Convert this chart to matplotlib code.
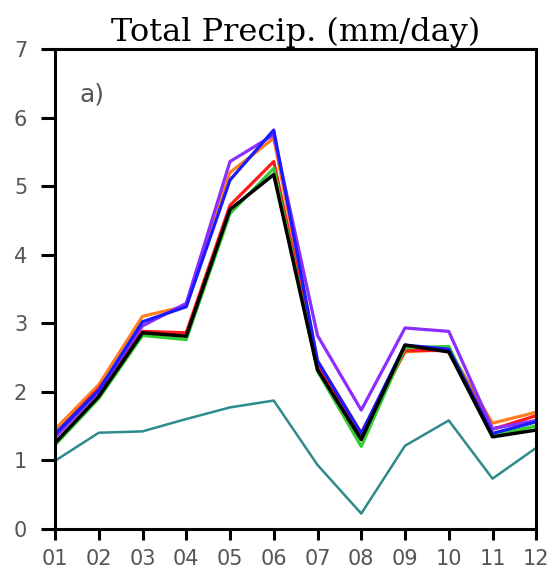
import matplotlib
matplotlib.use("Agg")
import matplotlib.pyplot as plt
import numpy as np

# monthly total precipitation (mm/day)
months = ["01", "02", "03", "04", "05", "06", "07", "08", "09", "10", "11", "12"]

orange = [1.45, 2.10, 3.10, 3.25, 5.20, 5.70, 2.45, 1.40, 2.58, 2.62, 1.54, 1.70]
red    = [1.38, 2.05, 2.88, 2.86, 4.72, 5.36, 2.40, 1.35, 2.60, 2.60, 1.45, 1.65]
green  = [1.22, 1.90, 2.82, 2.76, 4.60, 5.26, 2.30, 1.20, 2.64, 2.66, 1.36, 1.50]
purple = [1.33, 2.00, 2.96, 3.29, 5.36, 5.75, 2.82, 1.73, 2.93, 2.88, 1.46, 1.58]
blue   = [1.38, 2.02, 3.02, 3.24, 5.09, 5.82, 2.45, 1.39, 2.68, 2.62, 1.39, 1.56]
black  = [1.25, 1.93, 2.86, 2.81, 4.66, 5.17, 2.32, 1.30, 2.68, 2.58, 1.34, 1.44]
teal   = [0.99, 1.40, 1.42, 1.60, 1.77, 1.87, 0.93, 0.22, 1.21, 1.58, 0.73, 1.18]

x = np.arange(len(months))

fig = plt.figure(figsize=(5.5, 5.79), dpi=100)
ax = fig.add_axes([0.1, 0.087, 0.875, 0.828])

ax.plot(x, teal, color="#2e8b8b", lw=1.8)
ax.plot(x, orange, color="#ff7f1f", lw=2.3)
ax.plot(x, red, color="#ff1a1a", lw=2.3)
ax.plot(x, green, color="#33cc33", lw=2.3)
ax.plot(x, purple, color="#8c2eff", lw=2.3)
ax.plot(x, blue, color="#1a1aff", lw=2.3)
ax.plot(x, black, color="black", lw=2.5)

ax.set_xlim(0, 11)
ax.set_ylim(0, 7)
ax.set_xticks(x)
ax.set_xticklabels(months)
ax.set_yticks(np.arange(0, 8))

for s in ax.spines.values():
    s.set_linewidth(2.2)
ax.tick_params(axis="y", direction="out", length=10, width=2.2, labelsize=15,
               labelcolor="#555555", pad=10)
ax.tick_params(axis="x", direction="out", length=8, width=2.2, labelsize=15,
               labelcolor="#555555", pad=7)

ax.set_title("Total Precip. (mm/day)", family="DejaVu Serif", fontsize=23, pad=6)
ax.text(0.05, 0.905, "a)", transform=ax.transAxes, fontsize=18, color="#555555",
        va="center")

fig.savefig("out.png", dpi=100)
